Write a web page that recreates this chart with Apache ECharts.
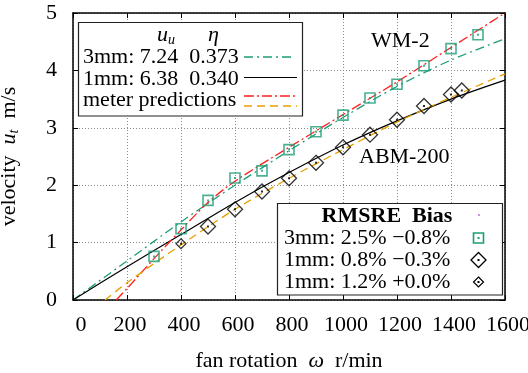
<!DOCTYPE html>
<html>
<head>
<meta charset="utf-8">
<script src="https://cdn.jsdelivr.net/npm/echarts@6/dist/echarts.min.js"></script>
<style>
  html, body { margin: 0; padding: 0; background: #fff; }
  #chart { width: 528px; height: 373px; }
</style>
</head>
<body>
<div id="chart"></div>
<script>
// Measured anemometer velocities (m/s) against fan speed (r/min)
const sq3mmRpm = [300, 400, 500, 600, 700, 800, 900, 1000, 1100, 1200, 1300, 1400, 1500];
const sq3mmVel = [0.76, 1.24, 1.735, 2.125, 2.25, 2.62, 2.93, 3.22, 3.52, 3.76, 4.08, 4.38, 4.62];
const dm1mmRpm = [500, 600, 700, 800, 900, 1000, 1100, 1200, 1300, 1400, 1440];
const dm1mmVel = [1.28, 1.58, 1.89, 2.12, 2.39, 2.66, 2.88, 3.14, 3.38, 3.58, 3.65];
const sm1mmRpm = [400];
const sm1mmVel = [0.98];

// Fitted model curves
const fitRpm = [0, 200, 400, 600, 800, 1000, 1200, 1400, 1600];
const fit3mmVel = [0, 0.68, 1.36, 2.0, 2.6, 3.18, 3.72, 4.18, 4.55];
const fit1mmVel = [0, 0.58, 1.14, 1.70, 2.22, 2.70, 3.12, 3.50, 3.83];

// Meter calibration predictions
const wmRpm = [160, 200, 300, 400, 500, 600, 800, 1000, 1200, 1400, 1600];
const wmVel = [0, 0.2, 0.72, 1.22, 1.70, 2.07, 2.66, 3.23, 3.80, 4.40, 5.0];
const abmRpm = [119, 200, 400, 600, 800, 1000, 1200, 1400, 1600];
const abmVel = [0, 0.3, 0.96, 1.58, 2.12, 2.62, 3.10, 3.53, 3.94];

// Axis ranges and ticks
const xMin = 0, xMax = 1600, xStep = 200;
const yMin = 0, yMax = 5, yStep = 1;

const pairs = (xs, ys) => xs.map((x, i) => [x, ys[i]]);

const FONT = 'Liberation Serif';
const FS = 22;
const GREEN = '#1b9e77';
const RED = '#ff2020';
const ORANGE = '#e69f00';
const PURPLE = '#9400d3';
const F = (extra) => (extra ? extra + ' ' : '') + FS + 'px "Liberation Serif"';

const chart = echarts.init(document.getElementById('chart'), null, { renderer: 'canvas' });

const axisCommon = {
  type: 'value',
  axisLine: { show: true, onZero: false, lineStyle: { color: '#000', width: 1.5 } },
  axisTick: { show: true, inside: true, length: 5, lineStyle: { color: '#000', width: 1 } },
};

const labelStyle = { fontFamily: FONT, fontSize: FS, color: '#000' };

const option = {
  animation: false,
  backgroundColor: '#fff',
  grid: { left: 73, right: 23, top: 13, bottom: 73, containLabel: false, outerBoundsMode: 'none' },
  xAxis: [
    Object.assign({}, axisCommon, {
      min: xMin, max: xMax, interval: xStep, position: 'bottom',
      axisLabel: Object.assign({
        margin: 14,
        formatter: v => (v === 0 ? '{z|0}' : '{n|' + v + '}'),
        rich: {
          z: { fontFamily: FONT, fontSize: FS, color: '#000', padding: [0, 0, 0, 16] },
          n: { fontFamily: FONT, fontSize: FS, color: '#000', padding: [0, 0, 0, 6] }
        }
      }, labelStyle),
      splitLine: { show: true, lineStyle: { color: '#8a8a8a', width: 1, type: [1, 2] } },
      name: '{t|fan rotation  }{i|ω}{t|  r/min}',
      nameLocation: 'middle', nameGap: 50,
      nameTextStyle: {
        rich: {
          t: { fontFamily: FONT, fontSize: FS, color: '#000' },
          i: { fontFamily: FONT, fontSize: FS, fontStyle: 'italic', color: '#000' }
        }
      }
    }),
    Object.assign({}, axisCommon, {
      min: xMin, max: xMax, interval: xStep, position: 'top',
      axisLabel: { show: false }, splitLine: { show: false }
    })
  ],
  yAxis: [
    Object.assign({}, axisCommon, {
      min: yMin, max: yMax, interval: yStep, position: 'left',
      axisLabel: Object.assign({ margin: 16 }, labelStyle),
      splitLine: { show: true, lineStyle: { color: '#8a8a8a', width: 1, type: [1, 2] } },
      name: '{t|velocity  }{i|u}{s|t}{t|  m/s}',
      nameLocation: 'middle', nameGap: 52, nameRotate: 90,
      nameTextStyle: {
        rich: {
          t: { fontFamily: FONT, fontSize: FS, color: '#000' },
          i: { fontFamily: FONT, fontSize: FS, fontStyle: 'italic', color: '#000' },
          s: { fontFamily: FONT, fontSize: 14, fontStyle: 'italic', color: '#000', verticalAlign: 'bottom', padding: [9, 0, 0, 0] }
        }
      }
    }),
    Object.assign({}, axisCommon, {
      min: yMin, max: yMax, interval: yStep, position: 'right',
      axisLabel: { show: false }, splitLine: { show: false }
    })
  ],
  series: [
    {
      name: 'fit 3mm', type: 'line', data: pairs(fitRpm, fit3mmVel), smooth: 0.3,
      showSymbol: false, lineStyle: { color: GREEN, width: 1.3, type: [9, 4, 2, 4] }, z: 3
    },
    {
      name: 'fit 1mm', type: 'line', data: pairs(fitRpm, fit1mmVel), smooth: 0.3,
      showSymbol: false, lineStyle: { color: '#000', width: 1.2 }, z: 3
    },
    {
      name: 'WM-2 prediction', type: 'line', data: pairs(wmRpm, wmVel), smooth: 0.3,
      showSymbol: false, lineStyle: { color: RED, width: 1.3, type: [10, 3, 2, 3] }, z: 3
    },
    {
      name: 'ABM-200 prediction', type: 'line', data: pairs(abmRpm, abmVel), smooth: 0.3,
      showSymbol: false, lineStyle: { color: ORANGE, width: 1.3, type: [8, 5] }, z: 3
    },
    {
      name: '3mm', type: 'scatter', data: pairs(sq3mmRpm, sq3mmVel), symbol: 'rect', symbolSize: 10,
      itemStyle: { color: 'rgba(0,0,0,0)', borderColor: GREEN, borderWidth: 1.6 }, z: 4
    },
    {
      name: '3mm centre', type: 'scatter', data: pairs(sq3mmRpm, sq3mmVel), symbol: 'rect', symbolSize: 2,
      itemStyle: { color: GREEN }, z: 4
    },
    {
      name: '1mm', type: 'scatter', data: pairs(dm1mmRpm, dm1mmVel), symbol: 'diamond', symbolSize: 15,
      itemStyle: { color: 'rgba(0,0,0,0)', borderColor: '#000', borderWidth: 1.3 }, z: 4
    },
    {
      name: '1mm centre', type: 'scatter', data: pairs(dm1mmRpm, dm1mmVel), symbol: 'rect', symbolSize: 2,
      itemStyle: { color: '#000' }, z: 4
    },
    {
      name: '1mm small', type: 'scatter', data: pairs(sm1mmRpm, sm1mmVel), symbol: 'diamond', symbolSize: 10,
      itemStyle: { color: 'rgba(0,0,0,0)', borderColor: '#000', borderWidth: 1.2 }, z: 4
    },
    {
      name: '1mm small centre', type: 'scatter', data: pairs(sm1mmRpm, sm1mmVel), symbol: 'rect', symbolSize: 2,
      itemStyle: { color: '#000' }, z: 4
    }
  ],
  graphic: [
    // instrument labels
    { type: 'text', left: 371, top: 30, z: 50, style: { text: 'WM-2', font: F(), fill: '#000' } },
    { type: 'text', left: 359, top: 146, z: 50, style: { text: 'ABM-200', font: F(), fill: '#000' } },

    // fit parameter key (upper left)
    { type: 'rect', z: 60, shape: { x: 78.5, y: 22.5, width: 224, height: 93.5 },
      style: { fill: '#fff', stroke: '#222', lineWidth: 1.2 } },
    { type: 'text', z: 61, x: 157, y: 35, style: { text: '{i|u}{s|u}', verticalAlign: 'middle',
      rich: { i: { font: F('italic'), fill: '#000' },
              s: { font: 'italic 14px "Liberation Serif"', fill: '#000', padding: [10, 0, 0, 0] } } } },
    { type: 'text', z: 61, x: 208, y: 35, style: { text: 'η', font: F('italic'), fill: '#000', verticalAlign: 'middle' } },
    { type: 'text', z: 61, x: 83, y: 57, style: { text: '3mm: 7.24  0.373', font: F(), fill: '#000', verticalAlign: 'middle' } },
    { type: 'text', z: 61, x: 83, y: 79, style: { text: '1mm: 6.38  0.340', font: F(), fill: '#000', verticalAlign: 'middle' } },
    { type: 'text', z: 61, x: 83, y: 100, style: { text: 'meter predictions', font: F(), fill: '#000', verticalAlign: 'middle' } },
    { type: 'line', z: 61, shape: { x1: 244, y1: 57, x2: 293, y2: 57 }, style: { stroke: GREEN, lineWidth: 1.3, lineDash: [9, 4, 2, 4] } },
    { type: 'line', z: 61, shape: { x1: 244, y1: 77.5, x2: 297, y2: 77.5 }, style: { stroke: '#000', lineWidth: 1.2 } },
    { type: 'line', z: 61, shape: { x1: 244, y1: 96, x2: 297, y2: 96 }, style: { stroke: RED, lineWidth: 1.3, lineDash: [10, 3, 2, 3] } },
    { type: 'line', z: 61, shape: { x1: 244, y1: 106, x2: 297, y2: 106 }, style: { stroke: ORANGE, lineWidth: 1.3, lineDash: [8, 5] } },

    // error statistics key (lower right)
    { type: 'rect', z: 60, shape: { x: 277.5, y: 203.5, width: 225, height: 91.5 },
      style: { fill: '#fff', stroke: '#222', lineWidth: 1.2 } },
    { type: 'text', z: 61, x: 387, y: 216, style: { text: 'RMSRE  Bias', font: F('bold'), fill: '#000', align: 'center', verticalAlign: 'middle' } },
    { type: 'circle', z: 61, shape: { cx: 479, cy: 215, r: 0.8 }, style: { fill: PURPLE } },
    { type: 'text', z: 61, x: 284, y: 238, style: { text: '3mm: 2.5% \u22120.8%', font: F(), fill: '#000', verticalAlign: 'middle' } },
    { type: 'text', z: 61, x: 284, y: 260, style: { text: '1mm: 0.8% \u22120.3%', font: F(), fill: '#000', verticalAlign: 'middle' } },
    { type: 'text', z: 61, x: 284, y: 282, style: { text: '1mm: 1.2% +0.0%', font: F(), fill: '#000', verticalAlign: 'middle' } },
    { type: 'rect', z: 61, shape: { x: 473.5, y: 233, width: 10, height: 10 }, style: { fill: 'none', stroke: GREEN, lineWidth: 1.6 } },
    { type: 'rect', z: 61, shape: { x: 477.5, y: 237, width: 2, height: 2 }, style: { fill: GREEN } },
    { type: 'polygon', z: 61, shape: { points: [[478.5, 252.5], [486, 260], [478.5, 267.5], [471, 260]] }, style: { fill: 'none', stroke: '#000', lineWidth: 1.3 } },
    { type: 'rect', z: 61, shape: { x: 477.5, y: 259, width: 2, height: 2 }, style: { fill: '#000' } },
    { type: 'polygon', z: 61, shape: { points: [[478.5, 277], [483.5, 282], [478.5, 287], [473.5, 282]] }, style: { fill: 'none', stroke: '#000', lineWidth: 1.2 } },
    { type: 'rect', z: 61, shape: { x: 477.5, y: 281, width: 2, height: 2 }, style: { fill: '#000' } }
  ]
};

chart.setOption(option);
</script>
</body>
</html>
